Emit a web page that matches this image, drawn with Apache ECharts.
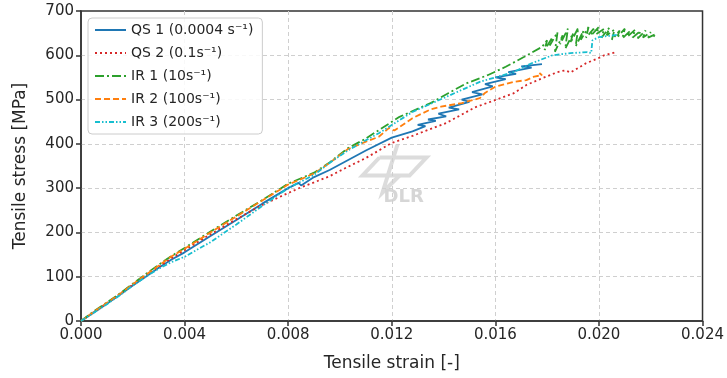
<!DOCTYPE html>
<html>
<head>
<meta charset="utf-8">
<script src="https://cdn.jsdelivr.net/npm/echarts@6/dist/echarts.min.js"></script>
<style>
  html, body { margin: 0; padding: 0; background: #fff; }
  #chart { width: 727px; height: 378px; }
</style>
</head>
<body>
<div id="chart"></div>
<script>
// tensile curves, strain [-] vs stress [MPa]
const xTicks = [0, 0.004, 0.008, 0.012, 0.016, 0.020, 0.024]
const yTicks = [0, 100, 200, 300, 400, 500, 600, 700]

const qs1Strain = [0, 0.0005, 0.001, 0.0015, 0.002, 0.0025, 0.003, 0.0035, 0.004, 0.005, 0.006, 0.007, 0.008, 0.0084, 0.0085, 0.009, 0.0096, 0.0103, 0.011, 0.012, 0.0128, 0.0133, 0.0130, 0.0137, 0.0134, 0.0141, 0.0138, 0.0146, 0.0142, 0.0150, 0.0147, 0.0155, 0.0151, 0.0159, 0.0156, 0.0164, 0.0160, 0.0168, 0.0165, 0.0174, 0.0170, 0.0178]
const qs1Stress = [0, 19, 39, 59, 80, 100, 120, 139, 155, 192, 228, 265, 300, 312, 306, 325, 341, 363, 385, 414, 428, 440, 443, 452, 455, 462, 468, 478, 482, 495, 500, 512, 517, 530, 535, 546, 550, 558, 562, 572, 575, 580]

const qs2Strain = [0, 0.0005, 0.001, 0.0015, 0.002, 0.0025, 0.003, 0.0035, 0.004, 0.005, 0.006, 0.007, 0.008, 0.0085, 0.009, 0.0096, 0.0103, 0.011, 0.012, 0.0128, 0.0141, 0.0152, 0.0167, 0.0172, 0.0178, 0.0184, 0.0187, 0.0189, 0.0195, 0.0200, 0.0202, 0.0206]
const qs2Stress = [0, 20, 40, 61, 82, 102, 122, 142, 160, 196, 230, 262, 289, 302, 313, 327, 348, 368, 402, 418, 447, 482, 514, 533, 548, 562, 566, 561, 582, 594, 600, 606]

const ir1Strain = [0, 0.0005, 0.001, 0.0015, 0.002, 0.0025, 0.003, 0.0035, 0.004, 0.005, 0.006, 0.007, 0.008, 0.009, 0.0096, 0.0103, 0.011, 0.0115, 0.0123, 0.0135, 0.0142, 0.0149, 0.0157, 0.0164, 0.0171, 0.0178,
  0.0180, 0.0179, 0.0182, 0.0181, 0.0184, 0.0183, 0.0186, 0.0185, 0.0188, 0.0187, 0.0190, 0.0189, 0.0192, 0.0191, 0.0194, 0.0193, 0.0196, 0.0195, 0.0198, 0.0197, 0.0200, 0.0199, 0.0202, 0.0201,
  0.0204, 0.0203, 0.0206, 0.0205, 0.0208, 0.0207, 0.0210, 0.0209, 0.0212, 0.0211, 0.0214, 0.0213, 0.0216, 0.0215, 0.0218, 0.0217, 0.0220, 0.0219, 0.0222, 0.0221]
const ir1Stress = [0, 22, 42, 62, 84, 106, 127, 147, 165, 202, 238, 273, 310, 335, 358, 390, 412, 431, 461, 492, 515, 537, 555, 574, 596, 619,
  634, 612, 640, 622, 652, 608, 645, 625, 660, 615, 650, 628, 662, 620, 655, 635, 664, 640, 660, 645, 664, 648, 660, 640,
  662, 645, 658, 635, 656, 640, 660, 638, 655, 642, 658, 640, 655, 638, 656, 640, 652, 640, 648, 642]

const ir2Strain = [0, 0.0005, 0.001, 0.0015, 0.002, 0.0025, 0.003, 0.0035, 0.004, 0.005, 0.006, 0.007, 0.008, 0.009, 0.0096, 0.0103, 0.011, 0.0115, 0.0119, 0.0121, 0.0128, 0.0135, 0.0139, 0.0147, 0.0154, 0.0156, 0.0160, 0.0167, 0.0172, 0.0175, 0.0178, 0.0177]
const ir2Stress = [0, 21, 41, 61, 83, 104, 125, 146, 163, 200, 236, 272, 308, 333, 357, 388, 405, 416, 436, 430, 458, 478, 484, 492, 503, 515, 529, 540, 544, 552, 555, 560]

const ir3Strain = [0, 0.0005, 0.001, 0.0015, 0.002, 0.0025, 0.003, 0.0035, 0.004, 0.005, 0.006, 0.007, 0.008, 0.009, 0.0096, 0.0103, 0.011, 0.0115, 0.0128, 0.0141, 0.0154, 0.0167, 0.0174, 0.0182, 0.0189, 0.01955, 0.0197, 0.01975, 0.0200, 0.0207]
const ir3Stress = [0, 19, 38, 58, 80, 100, 118, 133, 145, 178, 218, 260, 300, 330, 357, 385, 408, 424, 472, 506, 540, 562, 582, 600, 605, 607, 605, 634, 641, 646]

const names = ['QS 1 (0.0004 s⁻¹)', 'QS 2 (0.1s⁻¹)', 'IR 1 (10s⁻¹)', 'IR 2 (100s⁻¹)', 'IR 3 (200s⁻¹)']
const colors = ['#1f77b4', '#d62728', '#2ca02c', '#ff7f0e', '#17becf']
const dashes = ['solid', [2, 3], [9, 3, 2, 3], [6, 3], [5, 2, 1.5, 2, 1.5, 2]]

const zip = (xs, ys) => xs.map((x, i) => [x, ys[i]])
const curves = [
  zip(qs1Strain, qs1Stress),
  zip(qs2Strain, qs2Stress),
  zip(ir1Strain, ir1Stress),
  zip(ir2Strain, ir2Stress),
  zip(ir3Strain, ir3Stress),
]

const FONT = 'DejaVu Sans'
const TEXT = '#262626'
const SPLIT = { lineStyle: { color: '#cfcfcf', type: [4, 3], width: 1 }, showMinLine: false, showMaxLine: false }

const chart = echarts.init(document.getElementById('chart'))
chart.setOption({
  animation: false,
  backgroundColor: '#fff',
  textStyle: { fontFamily: FONT },
  grid: { left: 81, right: 24, top: 11, bottom: 57, show: true, borderColor: '#333', borderWidth: 1.5, backgroundColor: 'transparent' },
  legend: {
    orient: 'vertical',
    left: 88, top: 18,
    padding: [5, 9, 5, 6],
    itemGap: 9,
    itemWidth: 31, itemHeight: 14,
    itemStyle: { opacity: 0 },
    backgroundColor: 'rgba(255,255,255,0.85)',
    borderColor: '#cccccc', borderWidth: 1, borderRadius: 4,
    textStyle: { color: TEXT, fontSize: 14, fontFamily: FONT },
    data: names,
  },
  xAxis: {
    type: 'value',
    min: xTicks[0], max: xTicks[xTicks.length - 1], interval: 0.004,
    name: 'Tensile strain [-]',
    nameLocation: 'middle', nameGap: 34,
    nameTextStyle: { color: TEXT, fontSize: 17, fontFamily: FONT },
    axisLine: { lineStyle: { color: '#333', width: 1.5 } },
    axisTick: { show: true, length: 5, lineStyle: { color: '#333', width: 1.5 } },
    axisLabel: { color: TEXT, fontSize: 15, margin: 7, formatter: v => v.toFixed(3) },
    splitLine: SPLIT,
  },
  yAxis: {
    type: 'value',
    min: yTicks[0], max: yTicks[yTicks.length - 1], interval: 100,
    name: 'Tensile stress [MPa]',
    nameLocation: 'middle', nameGap: 52,
    nameTextStyle: { color: TEXT, fontSize: 17, fontFamily: FONT },
    axisLine: { show: true, lineStyle: { color: '#333', width: 1.5 } },
    axisTick: { show: true, length: 5, lineStyle: { color: '#333', width: 1.5 } },
    axisLabel: { color: TEXT, fontSize: 15, margin: 7 },
    splitLine: SPLIT,
  },
  // faint DLR watermark behind the curves
  graphic: [{
    type: 'group', left: 360, top: 142, z: 0, silent: true,
    children: [
      { type: 'polyline', shape: { points: [[18, 13], [65, 13], [48, 31], [1, 31], [18, 13]] }, style: { fill: null, stroke: '#dcdcdc', lineWidth: 4 } },
      { type: 'polyline', shape: { points: [[36, 0], [21, 48], [38, 31]] }, style: { fill: null, stroke: '#dcdcdc', lineWidth: 4 } },
      { type: 'text', left: 22, top: 44, style: { text: 'DLR', fill: '#d6d6d6', font: 'bold 18px "DejaVu Sans"' } },
    ],
  }],
  series: curves.map((d, i) => ({
    name: names[i],
    type: 'line',
    data: d,
    symbol: 'none',
    showSymbol: false,
    z: 3,
    color: colors[i],
    lineStyle: { color: colors[i], width: 1.8, type: dashes[i] },
  })),
})
</script>
</body>
</html>
